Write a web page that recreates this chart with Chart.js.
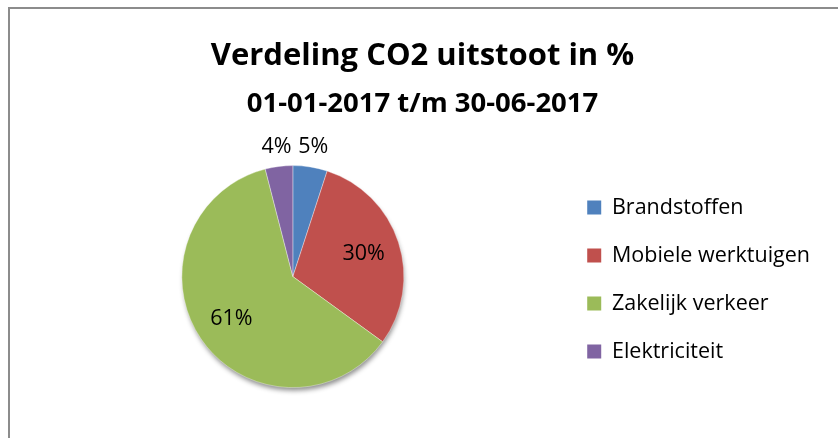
<!DOCTYPE html>
<html lang="nl">
<head>
  <meta charset="UTF-8" />
  <title>Verdeling CO2 uitstoot</title>
  <script src="https://cdn.jsdelivr.net/npm/chart.js@4"></script>
  <style>
    body {
      margin: 0;
      background: #ffffff;
      overflow: hidden;
    }
    #wrap {
      position: relative;
      width: 838px;
      height: 438px;
    }
    #frame {
      position: absolute;
      left: 8px;
      top: 7px;
      width: 850px;
      height: 450px;
      border-top: 2px solid #8c8c8c;
      border-left: 2px solid #8c8c8c;
    }
    canvas {
      position: absolute;
      left: 0;
      top: 0;
    }
  </style>
</head>
<body>
  <div id="wrap">
    <div id="frame"></div>
    <canvas id="pie" width="838" height="438"></canvas>
  </div>

  <script>
    const titleText = 'Verdeling CO2 uitstoot in %';
    const periodText = '01-01-2017 t/m 30-06-2017';
    const categories = ['Brandstoffen', 'Mobiele werktuigen', 'Zakelijk verkeer', 'Elektriciteit'];
    const shares = [5, 30, 61, 4];
    const sliceColors = ['#4f81bd', '#c0504d', '#9bbb59', '#8064a2'];

    const FONT = '"Open Sans", Lato, sans-serif';

    // soft shadow under the pie, like the office chart
    const pieShadow = {
      id: 'pieShadow',
      beforeDatasetsDraw(chart) {
        const arc = chart.getDatasetMeta(0).data[0];
        if (!arc) return;
        const { x, y, outerRadius } = arc.getProps(['x', 'y', 'outerRadius'], true);
        const ctx = chart.ctx;
        ctx.save();
        ctx.shadowColor = 'rgba(0,0,0,0.45)';
        ctx.shadowBlur = 5;
        ctx.shadowOffsetX = 1;
        ctx.shadowOffsetY = 4;
        ctx.fillStyle = '#ffffff';
        ctx.beginPath();
        ctx.arc(x, y, outerRadius - 1, 0, Math.PI * 2);
        ctx.fill();
        ctx.restore();
      }
    };

    // percentage labels: small slices outside, the rest inside
    const pctLabels = {
      id: 'pctLabels',
      afterDatasetsDraw(chart) {
        const ctx = chart.ctx;
        const meta = chart.getDatasetMeta(0);
        ctx.save();
        ctx.font = '21.5px ' + FONT;
        ctx.fillStyle = '#000000';
        ctx.textAlign = 'center';
        ctx.textBaseline = 'middle';
        meta.data.forEach((arc, i) => {
          const p = arc.getProps(['x', 'y', 'startAngle', 'endAngle', 'outerRadius'], true);
          const mid = (p.startAngle + p.endAngle) / 2;
          const r = shares[i] < 10 ? p.outerRadius + 20 : p.outerRadius * 0.67;
          ctx.fillText(shares[i] + '%', p.x + Math.cos(mid) * r, p.y + Math.sin(mid) * r);
        });
        ctx.restore();
      }
    };

    new Chart(document.getElementById('pie'), {
      type: 'pie',
      data: {
        labels: categories,
        datasets: [{
          data: shares,
          backgroundColor: sliceColors,
          borderColor: 'rgba(255,255,255,0.35)',
          borderWidth: 1
        }]
      },
      options: {
        responsive: false,
        animation: false,
        radius: 111,
        layout: {
          padding: { left: 25, right: 18, top: 0, bottom: 34 }
        },
        plugins: {
          title: {
            display: true,
            text: titleText,
            color: '#000000',
            font: { family: FONT, size: 31, weight: 'bold', lineHeight: 1.2 },
            padding: { top: 38, bottom: 0 }
          },
          subtitle: {
            display: true,
            text: periodText,
            color: '#000000',
            font: { family: FONT, size: 27.5, weight: 'bold', lineHeight: 1.2 },
            padding: { top: 12, bottom: 29 }
          },
          legend: {
            position: 'right',
            align: 'start',
            fullSize: false,
            title: {
              display: true,
              text: ' ',
              font: { size: 10, lineHeight: 1.2 },
              padding: 4.5
            },
            labels: {
              boxWidth: 14,
              boxHeight: 14,
              padding: 26.5,
              color: '#000000',
              font: { family: FONT, size: 21.5 },
              generateLabels(chart) {
                return Chart.overrides.pie.plugins.legend.labels.generateLabels(chart)
                  .map(item => Object.assign(item, { lineWidth: 0 }));
              }
            }
          },
          tooltip: { enabled: false }
        }
      },
      plugins: [pieShadow, pctLabels]
    });
  </script>
</body>
</html>
